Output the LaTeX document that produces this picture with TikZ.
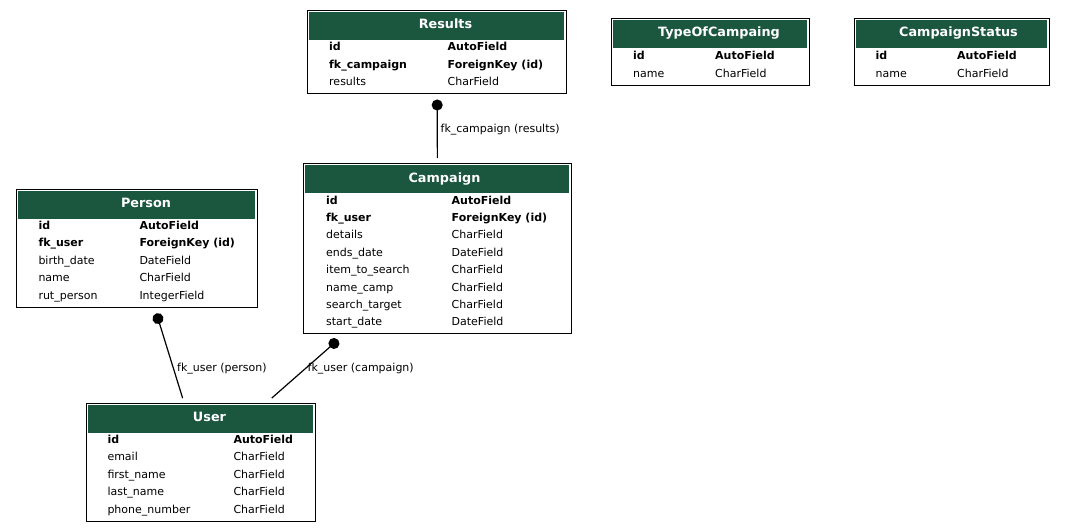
\documentclass[tikz,border=0pt]{standalone}
\usepackage{fontspec}
\setmainfont{DejaVu Sans}
\usetikzlibrary{arrows.meta}
\definecolor{hdrgreen}{HTML}{1B563F}
\begin{document}
\begin{tikzpicture}[x=1pt,y=-1pt,
  tbox/.style={draw=black,line width=1.3pt,fill=white,inner sep=0pt,anchor=north west},
  hdr/.style={fill=hdrgreen},
  ttl/.style={text=white,font=\fontsize{12.8}{15}\selectfont\bfseries,inner sep=0pt,anchor=base},
  fld/.style={font=\fontsize{11}{13}\selectfont,inner sep=0pt,anchor=base west},
  keyf/.style={font=\fontsize{11}{13}\selectfont\bfseries,inner sep=0pt,anchor=base west},
  lbl/.style={font=\fontsize{11}{13}\selectfont,inner sep=0pt,anchor=base west},
  fk/.style={line width=1.2pt,{Circle[length=11pt]}-}
]
\useasboundingbox (0,0) rectangle (1065,532);

% ---------- Results ----------
\node[tbox,minimum width=259pt,minimum height=83pt] (results) at (307,10) {};
\fill[hdr] (309,12) rectangle (564,40);
\node[ttl] (results-t) at (445.5,28.5) {Results};
\node[keyf] (results-n1) at (329,51) {id};
\node[keyf] (results-v1) at (447.5,51) {AutoField};
\node[keyf] (results-n2) at (329,68.4) {fk\_campaign};
\node[keyf] (results-v2) at (447.5,68.4) {ForeignKey (id)};
\node[fld] (results-n3) at (329,85.8) {results};
\node[fld] (results-v3) at (447.5,85.8) {CharField};

% ---------- TypeOfCampaing ----------
\node[tbox,minimum width=198pt,minimum height=67pt] (toc) at (611,18) {};
\fill[hdr] (613,20) rectangle (807,48);
\node[ttl] (toc-t) at (719,37) {TypeOfCampaing};
\node[keyf] (toc-n1) at (633,59.5) {id};
\node[keyf] (toc-v1) at (715,59.5) {AutoField};
\node[fld] (toc-n2) at (633,77.2) {name};
\node[fld] (toc-v2) at (715,77.2) {CharField};

% ---------- CampaignStatus ----------
\node[tbox,minimum width=195pt,minimum height=67pt] (cs) at (854,18) {};
\fill[hdr] (856,20) rectangle (1047,48);
\node[ttl] (cs-t) at (958.5,37) {CampaignStatus};
\node[keyf] (cs-n1) at (875.5,59.5) {id};
\node[keyf] (cs-v1) at (957,59.5) {AutoField};
\node[fld] (cs-n2) at (875.5,77.2) {name};
\node[fld] (cs-v2) at (957,77.2) {CharField};

% ---------- Campaign ----------
\node[tbox,minimum width=267.5pt,minimum height=170pt] (campaign) at (303,163) {};
\fill[hdr] (305,165) rectangle (568.5,193);
\node[ttl] (campaign-t) at (444.5,182) {Campaign};
\node[keyf] (campaign-n1) at (326,204) {id};
\node[keyf] (campaign-v1) at (451.5,204) {AutoField};
\node[keyf] (campaign-n2) at (326,221.4) {fk\_user};
\node[keyf] (campaign-v2) at (451.5,221.4) {ForeignKey (id)};
\node[fld] (campaign-n3) at (326,238.8) {details};
\node[fld] (campaign-v3) at (451.5,238.8) {CharField};
\node[fld] (campaign-n4) at (326,256.2) {ends\_date};
\node[fld] (campaign-v4) at (451.5,256.2) {DateField};
\node[fld] (campaign-n5) at (326,273.6) {item\_to\_search};
\node[fld] (campaign-v5) at (451.5,273.6) {CharField};
\node[fld] (campaign-n6) at (326,291) {name\_camp};
\node[fld] (campaign-v6) at (451.5,291) {CharField};
\node[fld] (campaign-n7) at (326,308.4) {search\_target};
\node[fld] (campaign-v7) at (451.5,308.4) {CharField};
\node[fld] (campaign-n8) at (326,325.8) {start\_date};
\node[fld] (campaign-v8) at (451.5,325.8) {DateField};

% ---------- Person ----------
\node[tbox,minimum width=241pt,minimum height=117.5pt] (person) at (16,189) {};
\fill[hdr] (18,191) rectangle (255,219);
\node[ttl] (person-t) at (146,207.5) {Person};
\node[keyf] (person-n1) at (38.3,229.5) {id};
\node[keyf] (person-v1) at (139.3,229.5) {AutoField};
\node[keyf] (person-n2) at (38.3,246.9) {fk\_user};
\node[keyf] (person-v2) at (139.3,246.9) {ForeignKey (id)};
\node[fld] (person-n3) at (38.3,264.3) {birth\_date};
\node[fld] (person-v3) at (139.3,264.3) {DateField};
\node[fld] (person-n4) at (38.3,281.7) {name};
\node[fld] (person-v4) at (139.3,281.7) {CharField};
\node[fld] (person-n5) at (38.3,299.1) {rut\_person};
\node[fld] (person-v5) at (139.3,299.1) {IntegerField};

% ---------- User ----------
\node[tbox,minimum width=229pt,minimum height=118pt] (user) at (86,403) {};
\fill[hdr] (88,405) rectangle (313,433);
\node[ttl] (user-t) at (209.5,421.5) {User};
\node[keyf] (user-n1) at (107.3,443.3) {id};
\node[keyf] (user-v1) at (233.3,443.3) {AutoField};
\node[fld] (user-n2) at (107.3,460.8) {email};
\node[fld] (user-v2) at (233.3,460.8) {CharField};
\node[fld] (user-n3) at (107.3,478.3) {first\_name};
\node[fld] (user-v3) at (233.3,478.3) {CharField};
\node[fld] (user-n4) at (107.3,495.8) {last\_name};
\node[fld] (user-v4) at (233.3,495.8) {CharField};
\node[fld] (user-n5) at (107.3,513.3) {phone\_number};
\node[fld] (user-v5) at (233.3,513.3) {CharField};

% ---------- Connectors ----------
\draw[fk,shorten <=5.2pt,shorten >=5pt] (results.south) -- (campaign.north);
\draw[fk,shorten <=5.8pt,shorten >=5pt] ([xshift=17.5pt]person.south) -- ([xshift=-17pt]user.north);
\draw[fk,shorten <=8.4pt,shorten >=7.4pt] ([xshift=-93pt]campaign.south) -- ([xshift=65pt]user.north);

\node[lbl] (lbl-results) at (440.5,132) {fk\_campaign (results)};
\node[lbl] (lbl-person) at (177,371) {fk\_user (person)};
\node[lbl] (lbl-campaign) at (307.5,371) {fk\_user (campaign)};
\end{tikzpicture}
\end{document}
